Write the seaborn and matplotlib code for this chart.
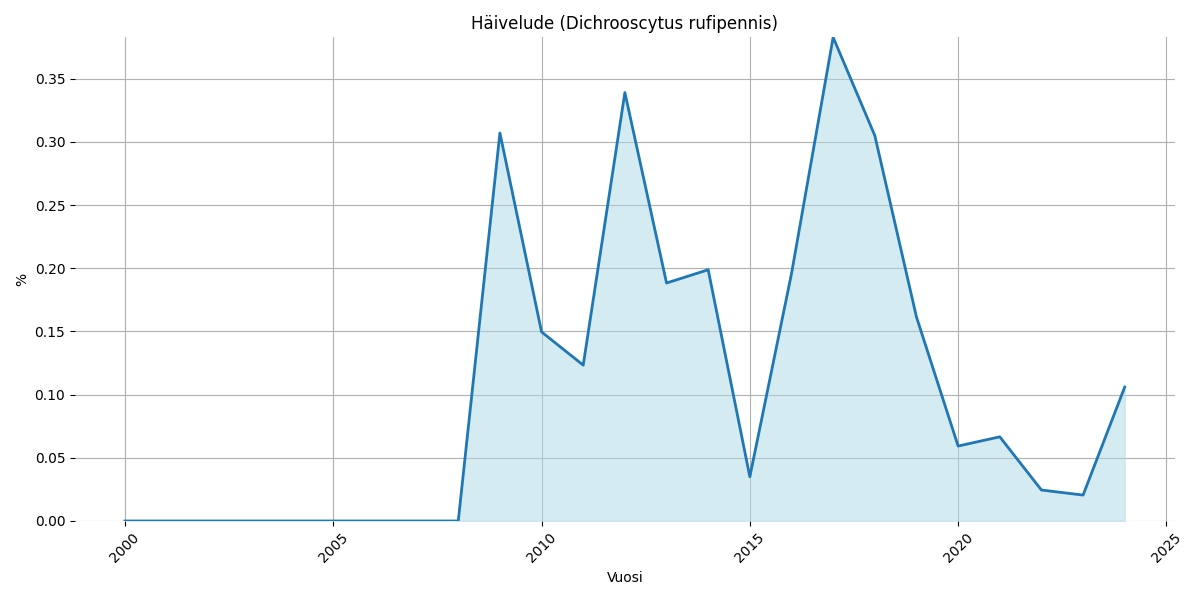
import matplotlib
matplotlib.use("Agg")
import matplotlib.pyplot as plt
import seaborn as sns
import pandas as pd

years = list(range(2000, 2025))
percent = [0, 0, 0, 0, 0, 0, 0, 0, 0,
           0.307, 0.1496, 0.1233, 0.339, 0.1883, 0.1988, 0.035,
           0.1957, 0.3827, 0.305, 0.1614, 0.0593, 0.0666, 0.0245, 0.0205, 0.106]

df = pd.DataFrame({'Vuosi': years, 'pct': percent})

fig, ax = plt.subplots(figsize=(12, 6), dpi=100)
sns.lineplot(data=df, x='Vuosi', y='pct', ax=ax, color='#1f77b4', linewidth=2)
ax.fill_between(df['Vuosi'], df['pct'], color='lightblue', alpha=0.5)

ax.set_title('Häivelude (Dichrooscytus rufipennis)')
ax.set_xlabel('Vuosi')
ax.set_ylabel('%')
ax.set_ylim(0, max(percent))
ax.grid(True, color='#b0b0b0')
ax.set_axisbelow(True)
for s in ax.spines.values():
    s.set_visible(False)
plt.xticks(rotation=45)

plt.tight_layout()
plt.savefig('out.png')
